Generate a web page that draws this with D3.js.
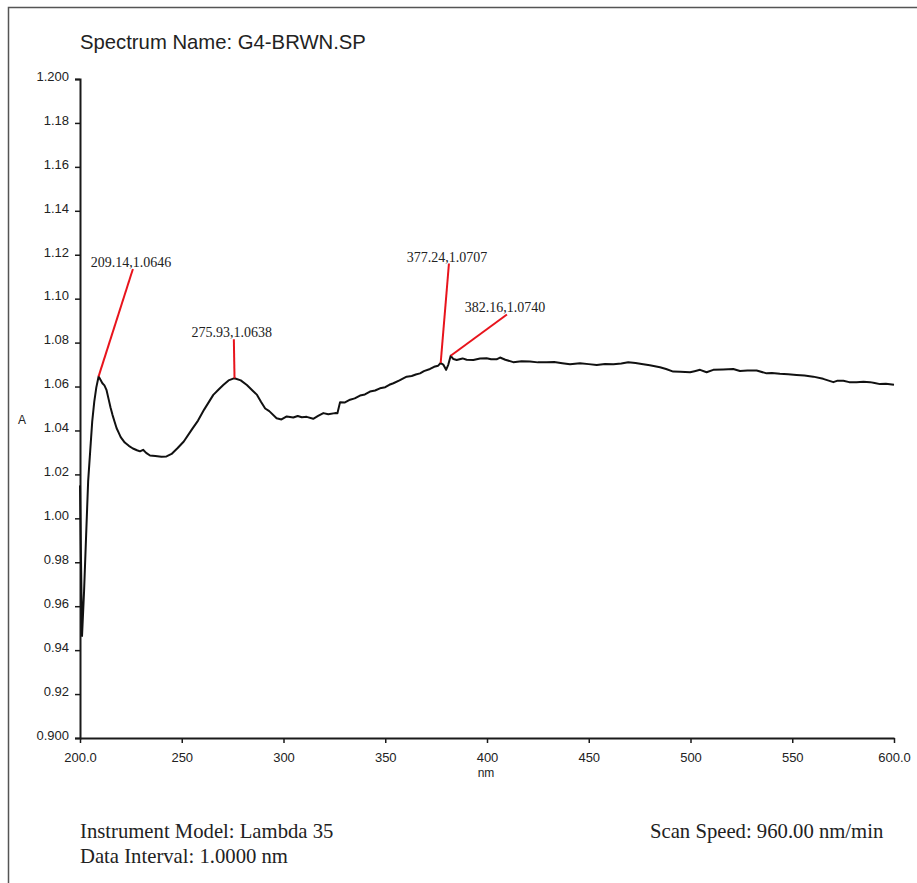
<!DOCTYPE html>
<html>
<head>
<meta charset="utf-8">
<script src="https://cdn.jsdelivr.net/npm/d3@7/dist/d3.min.js"></script>
<style>
  body { margin: 0; background: #fff; }
  svg { display: block; }
</style>
</head>
<body>
<div id="chart"></div>
<script>
// spectrum (nm, absorbance)
var wavelength = [200, 201, 202, 203, 204, 205, 206, 207, 208, 209.14,
    210, 211, 212, 213, 214, 215, 216, 217, 218, 219, 220, 222, 224, 226, 228, 229.5, 231, 232.5, 234.4,
    237, 240, 242.5, 245, 248, 251, 255, 258, 261, 265.5, 268, 270.4, 273, 275.93,
    279, 282, 285, 287, 289, 291, 293, 296.6, 299, 301.6, 304.8, 307, 309, 311.4, 314.6, 317, 319.6, 322, 325.3,
    326.5, 327.8, 330, 332.7, 335, 337.6, 340, 342.5, 345, 347.4, 350, 352, 354, 357, 360.5, 363, 365, 367.1,
    369, 372, 374, 376, 377.24, 378.5, 379.9, 381, 382.16, 383.5, 385.1, 388, 390, 393.3, 396.6, 399.8, 402,
    404.7, 406.4, 409, 412.9, 417, 421.1, 425, 429.3, 433, 437, 440.8, 445.7, 450, 453.9, 458, 462.1, 466,
    469.4, 473, 476, 480, 485, 488, 491.5, 495, 499.8, 502, 504.7, 507.9, 511.2, 516, 521, 524.3, 528, 532.5,
    537.4, 540, 543.9, 548, 552.1, 556, 560.3, 565.2, 570.2, 572, 575.1, 578, 581.6, 585, 588.2, 590.5, 593.1, 596, 600];
var absorbance = [1.015, 0.9464, 0.9668, 0.992, 1.0168, 1.0305, 1.0440, 1.0530, 1.0595, 1.0646,
    1.0632, 1.0615, 1.0605, 1.0585, 1.0545, 1.0505, 1.0470, 1.0440, 1.0410, 1.0390, 1.0370, 1.0345, 1.0330, 1.0318, 1.0310, 1.0305, 1.0312, 1.0298, 1.0286,
    1.0284, 1.0280, 1.0282, 1.0293, 1.0320, 1.0350, 1.0405, 1.0445, 1.0495, 1.0562, 1.0585, 1.0607, 1.0628, 1.0638,
    1.0628, 1.0607, 1.0580, 1.0562, 1.0530, 1.0500, 1.0488, 1.0456, 1.0450, 1.0464, 1.0459, 1.0466, 1.0460, 1.0462, 1.0453, 1.0466, 1.0479, 1.0474, 1.0479,
    1.0478, 1.0529, 1.0527, 1.0540, 1.0546, 1.0559, 1.0564, 1.0577, 1.0582, 1.0592, 1.0597, 1.0608, 1.0615, 1.0628, 1.0645, 1.0648, 1.0655, 1.0660,
    1.0670, 1.0680, 1.0690, 1.0695, 1.0707, 1.0700, 1.0676, 1.0700, 1.0740, 1.0725, 1.0721, 1.0728, 1.0722, 1.0721, 1.0728, 1.0729, 1.0724,
    1.0724, 1.0732, 1.0722, 1.0711, 1.0715, 1.0714, 1.0710, 1.0711, 1.0712, 1.0706, 1.0701, 1.0706, 1.0702, 1.0698, 1.0703, 1.0701, 1.0705,
    1.0711, 1.0707, 1.0703, 1.0697, 1.0688, 1.0680, 1.0668, 1.0667, 1.0665, 1.0670, 1.0676, 1.0665, 1.0676, 1.0678, 1.0680, 1.0671, 1.0673, 1.0673,
    1.0660, 1.0662, 1.0658, 1.0656, 1.0653, 1.0650, 1.0645, 1.0635, 1.0620, 1.0626, 1.0626, 1.0620, 1.0620, 1.0622, 1.0620, 1.0616, 1.0611, 1.0613, 1.0608];

// peak labels: peak position and where the leader line ends (data units)
var peakNm = [209.14, 275.93, 377.24, 382.16];
var peakA = [1.0646, 1.0638, 1.0707, 1.0740];
var leaderNm = [226.0, 275.6, 381.3, 409.8];
var leaderA = [1.1135, 1.0815, 1.1160, 1.0928];

var xTicks = [200, 250, 300, 350, 400, 450, 500, 550, 600];
var xTickLabels = ["200.0", "250", "300", "350", "400", "450", "500", "550", "600.0"];
var yTicks = [0.90, 0.92, 0.94, 0.96, 0.98, 1.00, 1.02, 1.04, 1.06, 1.08, 1.10, 1.12, 1.14, 1.16, 1.18, 1.20];
var yTickLabels = ["0.900", "0.92", "0.94", "0.96", "0.98", "1.00", "1.02", "1.04", "1.06", "1.08", "1.10", "1.12", "1.14", "1.16", "1.18", "1.200"];

var width = 917, height = 883;
var sans = "'Liberation Sans', Arial, sans-serif";
var serif = "'Liberation Serif', 'Times New Roman', serif";

var svg = d3.select("#chart").append("svg")
    .attr("width", width)
    .attr("height", height);

// page frame (only top and left edges show)
svg.append("path")
    .attr("d", "M8.5," + height + "V7.5H" + width)
    .attr("fill", "none")
    .attr("stroke", "#555")
    .attr("stroke-width", 1.5);

var x = d3.scaleLinear().domain([200, 600]).range([80, 894]);
var y = d3.scaleLinear().domain([0.9, 1.2]).range([738, 79]);

svg.append("text")
    .attr("x", 80)
    .attr("y", 49)
    .attr("font-family", sans)
    .attr("font-size", 20.3)
    .attr("fill", "#222")
    .text("Spectrum Name: G4-BRWN.SP");

var yAxis = svg.append("g")
    .attr("transform", "translate(" + x(200) + ",0)")
    .call(d3.axisLeft(y)
        .tickValues(yTicks)
        .tickSize(5)
        .tickPadding(6)
        .tickFormat(function(d, i) { return yTickLabels[i]; }));

var xAxis = svg.append("g")
    .attr("transform", "translate(0," + y(0.9) + ")")
    .call(d3.axisBottom(x)
        .tickValues(xTicks)
        .tickSize(5)
        .tickSizeOuter(0)
        .tickFormat(function(d, i) { return xTickLabels[i]; }));

[xAxis, yAxis].forEach(function(g) {
    g.select(".domain").attr("stroke", "#1a1a1a").attr("stroke-width", 2);
    g.selectAll(".tick line").attr("stroke", "#1a1a1a").attr("stroke-width", 1.5);
    g.selectAll(".tick text")
        .attr("font-family", sans)
        .attr("font-size", 13)
        .attr("fill", "#222");
});
yAxis.selectAll(".tick text").attr("dy", "0.1em");
xAxis.selectAll(".tick text").attr("y", 24).attr("dy", 0);

svg.append("text")
    .attr("x", 486)
    .attr("y", 777)
    .attr("text-anchor", "middle")
    .attr("font-family", sans)
    .attr("font-size", 12)
    .attr("fill", "#222")
    .text("nm");

svg.append("text")
    .attr("x", 22)
    .attr("y", 424)
    .attr("text-anchor", "middle")
    .attr("font-family", sans)
    .attr("font-size", 12)
    .attr("fill", "#222")
    .text("A");

var line = d3.line()
    .x(function(d) { return x(d[0]); })
    .y(function(d) { return y(d[1]); });

svg.append("path")
    .datum(d3.zip(wavelength, absorbance))
    .attr("d", line)
    .attr("fill", "none")
    .attr("stroke", "#111")
    .attr("stroke-width", 2)
    .attr("stroke-linejoin", "round");

// peak annotations
var peaks = peakNm.map(function(nm, i) {
    return { nm: nm, a: peakA[i], lnm: leaderNm[i], la: leaderA[i] };
});

var ann = svg.append("g").selectAll("g")
    .data(peaks)
    .enter().append("g");

ann.append("line")
    .attr("x1", function(d) { return x(d.nm); })
    .attr("y1", function(d) { return y(d.a); })
    .attr("x2", function(d) { return x(d.lnm); })
    .attr("y2", function(d) { return y(d.la); })
    .attr("stroke", "#e8141c")
    .attr("stroke-width", 2);

ann.append("text")
    .attr("x", function(d) { return x(d.lnm) - 2; })
    .attr("y", function(d) { return y(d.la) - 2; })
    .attr("text-anchor", "middle")
    .attr("font-family", serif)
    .attr("font-size", 14)
    .attr("fill", "#222")
    .text(function(d) { return d.nm.toFixed(2) + "," + d.a.toFixed(4); });

// instrument footer
var footer = [
    { text: "Instrument Model: Lambda 35", x: 80, y: 838 },
    { text: "Data Interval: 1.0000 nm", x: 80, y: 863 },
    { text: "Scan Speed: 960.00 nm/min", x: 650, y: 838 }
];
svg.append("g").selectAll("text")
    .data(footer)
    .enter().append("text")
    .attr("x", function(d) { return d.x; })
    .attr("y", function(d) { return d.y; })
    .attr("font-family", serif)
    .attr("font-size", 20.7)
    .attr("fill", "#222")
    .text(function(d) { return d.text; });
</script>
</body>
</html>
